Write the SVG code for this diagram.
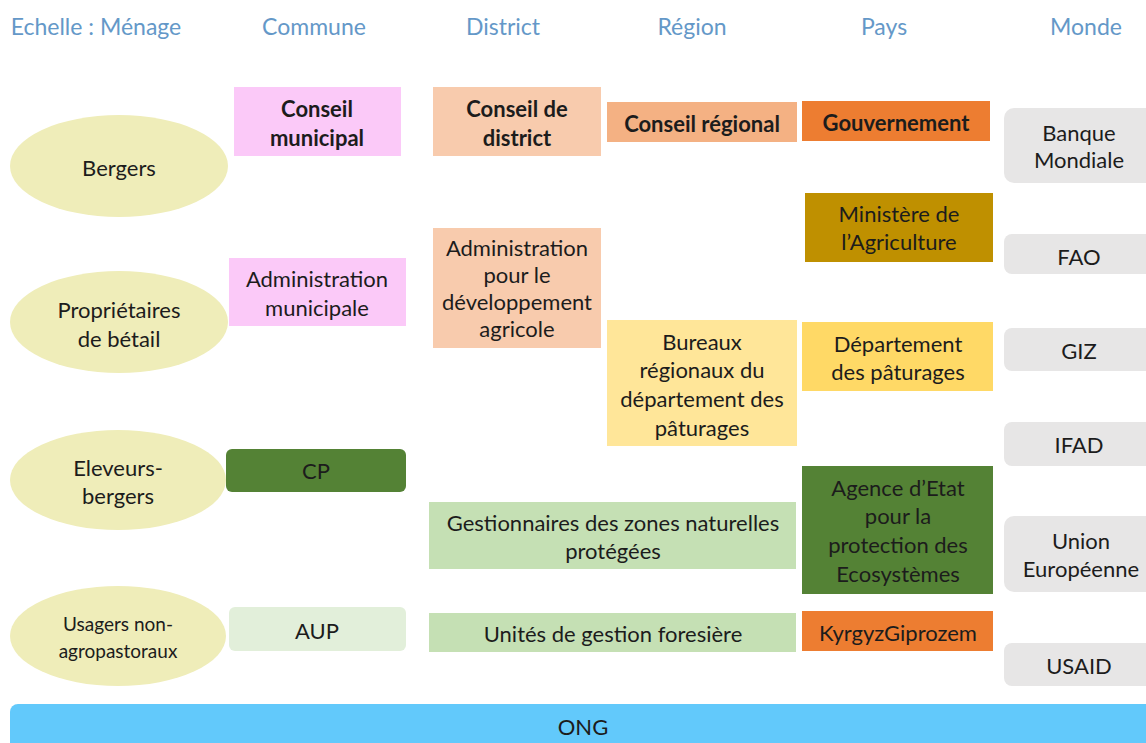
<svg xmlns="http://www.w3.org/2000/svg" width="1146" height="743" viewBox="0 0 1146 743">
<style>
text{font-family:Lato,"Open Sans","Liberation Sans",sans-serif;font-size:22px;fill:#1c1c1c;text-anchor:middle;dominant-baseline:central}
.h{fill:#6498c8;font-size:23px}
.b{font-weight:bold}
.s{font-size:19px}
.ell{fill:#efedb9}
.pink{fill:#fbc9f8}
.salmon{fill:#f8cbad}
.peach{fill:#f4b183}
.orange{fill:#ed7d31}
.gold{fill:#bf9000}
.yel{fill:#ffe699}
.yel2{fill:#ffd966}
.dg{fill:#548235}
.lg{fill:#c5e0b4}
.pg{fill:#e2efda}
.gray{fill:#e7e6e6}
</style>
<rect width="1146" height="743" fill="#ffffff"/>
<g id="headers">
<text class="h" x="96" y="26">Echelle : Ménage</text>
<text class="h" x="314" y="26">Commune</text>
<text class="h" x="503" y="26">District</text>
<text class="h" x="692" y="26">Région</text>
<text class="h" x="884" y="26">Pays</text>
<text class="h" x="1086" y="26">Monde</text>
</g>
<g id="connectors"></g>
<g id="bergers"><ellipse class="ell" cx="119" cy="166" rx="109" ry="51"/><text x="119" y="167">Bergers</text></g>
<g id="proprietaires"><ellipse class="ell" cx="119" cy="322" rx="109" ry="51"/><text x="119" y="309">Propriétaires</text><text x="119" y="338">de bétail</text></g>
<g id="eleveurs"><ellipse class="ell" cx="118" cy="480" rx="108" ry="50"/><text x="118" y="467">Eleveurs-</text><text x="118" y="495">bergers</text></g>
<g id="usagers"><ellipse class="ell" cx="118" cy="636" rx="108" ry="50"/><text class="s" x="118" y="623">Usagers non-</text><text class="s" x="118" y="650">agropastoraux</text></g>

<g id="conseil-municipal"><rect class="pink" x="234" y="87" width="167" height="69"/><text class="b" x="317" y="108">Conseil</text><text class="b" x="317" y="137">municipal</text></g>
<g id="admin-municipale"><rect class="pink" x="229" y="258" width="177" height="68"/><text x="317" y="278">Administration</text><text x="317" y="307">municipale</text></g>
<g id="cp"><rect class="dg" x="226" y="449" width="180" height="43" rx="6"/><text x="316" y="470">CP</text></g>
<g id="aup"><rect class="pg" x="229" y="607" width="177" height="44" rx="6"/><text x="317" y="630">AUP</text></g>

<g id="conseil-district"><rect class="salmon" x="433" y="87" width="168" height="69"/><text class="b" x="517" y="108">Conseil de</text><text class="b" x="517" y="137">district</text></g>
<g id="admin-dev"><rect class="salmon" x="433" y="228" width="168" height="120"/><text x="517" y="247">Administration</text><text x="517" y="274">pour le</text><text x="517" y="301">développement</text><text x="517" y="328">agricole</text></g>
<g id="gestionnaires"><rect class="lg" x="429" y="502" width="367" height="67"/><text x="613" y="522">Gestionnaires des zones naturelles</text><text x="613" y="550">protégées</text></g>
<g id="unites"><rect class="lg" x="429" y="613" width="367" height="39"/><text x="613" y="633">Unités de gestion foresière</text></g>

<g id="conseil-regional"><rect class="peach" x="607" y="102" width="190" height="40"/><text class="b" x="702" y="123">Conseil régional</text></g>
<g id="bureaux"><rect class="yel" x="607" y="320" width="190" height="126"/><text x="702" y="341">Bureaux</text><text x="702" y="369">régionaux du</text><text x="702" y="398">département des</text><text x="702" y="427">pâturages</text></g>

<g id="gouvernement"><rect class="orange" x="802" y="101" width="188" height="40"/><text class="b" x="896" y="122">Gouvernement</text></g>
<g id="ministere"><rect class="gold" x="805" y="193" width="188" height="69"/><text x="899" y="213">Ministère de</text><text x="899" y="241">l’Agriculture</text></g>
<g id="departement"><rect class="yel2" x="802" y="322" width="191" height="69"/><text x="898" y="343">Département</text><text x="898" y="371">des pâturages</text></g>
<g id="agence"><rect class="dg" x="802" y="466" width="191" height="128"/><text x="898" y="487">Agence d’Etat</text><text x="898" y="515">pour la</text><text x="898" y="544">protection des</text><text x="898" y="573">Ecosystèmes</text></g>
<g id="kyrgyz"><rect class="orange" x="802" y="611" width="191" height="40"/><text x="898" y="632">KyrgyzGiprozem</text></g>

<g id="banque"><rect class="gray" x="1004" y="108" width="160" height="75" rx="10"/><text x="1079" y="132">Banque</text><text x="1079" y="159">Mondiale</text></g>
<g id="fao"><rect class="gray" x="1004" y="234" width="160" height="40" rx="8"/><text x="1079" y="256">FAO</text></g>
<g id="giz"><rect class="gray" x="1004" y="328" width="160" height="43" rx="8"/><text x="1079" y="350">GIZ</text></g>
<g id="ifad"><rect class="gray" x="1004" y="422" width="160" height="44" rx="8"/><text x="1079" y="444">IFAD</text></g>
<g id="ue"><rect class="gray" x="1004" y="516" width="160" height="76" rx="10"/><text x="1081" y="540">Union</text><text x="1081" y="568">Européenne</text></g>
<g id="usaid"><rect class="gray" x="1004" y="643" width="160" height="43" rx="8"/><text x="1079" y="665">USAID</text></g>

<g id="ong"><rect x="10" y="704" width="1150" height="60" rx="8" fill="#62c9fb"/><text x="583" y="726">ONG</text></g>
</svg>
